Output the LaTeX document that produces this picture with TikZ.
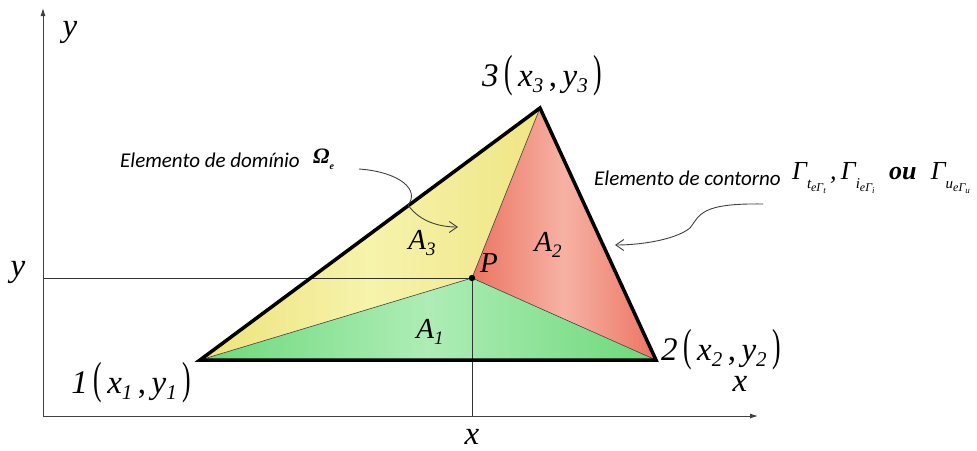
\documentclass[tikz,border=0pt]{standalone}
\usepackage{fontspec}
\setmainfont{Liberation Serif}
\newfontfamily\calibfont{Carlito}
\usetikzlibrary{arrows.meta}
\definecolor{yelA}{HTML}{EEE27A}
\definecolor{yelB}{HTML}{F6F3AC}
\definecolor{redA}{HTML}{EC7462}
\definecolor{redB}{HTML}{F6B2A4}
\definecolor{grnA}{HTML}{6CD87A}
\definecolor{grnB}{HTML}{AEEDB6}
\newcommand{\bigpar}[1]{\scalebox{0.85}[1.5]{\upshape\fontsize{30}{30}\selectfont #1}}
\newcommand{\vsub}[1]{\raisebox{-0.4ex}{\fontsize{21}{21}\selectfont\itshape #1}}
\newcommand{\asub}[1]{\raisebox{-0.45ex}{\fontsize{19}{19}\selectfont\itshape #1}}
\newcommand{\vtx}[3]{{\itshape #1}\,\bigpar{(}\,{\itshape x}\vsub{#2}\,,\,{\itshape y}\vsub{#3}\,\bigpar{)}}
\newcommand{\gsub}[2]{\raisebox{-0.75ex}{\fontsize{15}{15}\selectfont #1\raisebox{-0.45ex}{\fontsize{12}{12}\selectfont eΓ\raisebox{-0.35ex}{\fontsize{9}{9}\selectfont #2}}}}
\begin{document}
\begin{tikzpicture}[x=1pt,y=-1pt,
  axis/.style={draw=black!75,line width=0.9pt},
  guide/.style={draw=black!80,line width=0.7pt},
  edge/.style={draw=black,line width=3.5pt,line join=miter},
  inner/.style={draw=black!75,line width=0.6pt},
  mlab/.style={font=\fontsize{33}{33}\selectfont\itshape,inner sep=0pt},
  alab/.style={font=\fontsize{29}{29}\selectfont\itshape,inner sep=0pt},
  vlab/.style={font=\fontsize{33}{33}\selectfont,inner sep=0pt},
  note/.style={font=\calibfont\itshape\fontsize{21}{21}\selectfont,inner sep=0pt},
  pointer/.style={draw=black!75,line width=0.9pt,-{Straight Barb[length=8pt,width=11pt]}}]
\useasboundingbox (0,0) rectangle (977,450);
% reference points
\coordinate (O) at (43,416);
\coordinate (ytip) at (43,8);
\coordinate (xtip) at (758,416);
\coordinate (v1) at (200,360);
\coordinate (v2) at (656,360);
\coordinate (v3) at (540,108);
\coordinate (P) at (472,278);
\coordinate (yl) at (43,278);
\coordinate (xl) at (472,416);
% filled sub-triangles
\shade[left color=yelA,right color=yelA!80!yelB,middle color=yelB] (v1) -- (v3) -- (P) -- cycle;
\shade[left color=redA,right color=redA,middle color=redB] (P) -- (v3) -- (v2) -- cycle;
\shade[left color=grnA,right color=grnA,middle color=grnB] (v1) -- (P) -- (v2) -- cycle;
% guide lines to P
\draw[guide] (yl) -- (P);
\draw[guide] (P) -- (xl);
% inner edges
\draw[inner] (v1) -- (P);
\draw[inner] (v3) -- (P);
\draw[inner] (v2) -- (P);
% axes
\draw[axis,-{Latex[length=8pt,width=5pt]}] (O) -- (ytip);
\draw[axis,-{Latex[length=8pt,width=5pt]}] (O) -- (xtip);
% outer triangle
\draw[edge] (v1) -- (v2) -- (v3) -- cycle;
\fill (P) circle (3.2pt);
% labels
\node[mlab] (ylabT) at (70,32) {y};
\node[mlab] (xlabR) at (740,384) {x};
\node[mlab] (xlabB) at (472,437) {x};
\node[mlab] (ylabL) at (18,272) {y};
\node[alab] (Plab) at (489,263) {P};
\node[alab] (A3) at (422,243) {A\asub{3}};
\node[alab] (A2) at (548,245) {A\asub{2}};
\node[alab] (A1) at (430,332) {A\asub{1}};
\node[vlab] (n3) at (542,76) {\vtx{3}{3}{3}};
\node[vlab,anchor=west] (n2) at (661,350) {\vtx{2}{2}{2}};
\node[vlab,anchor=east] (n1) at (191,383) {\vtx{1}{1}{1}};
% notes
\node[note,anchor=west] (dom) at (120,160) {Elemento de domínio};
\node[anchor=west,inner sep=0pt,font=\fontsize{22}{22}\selectfont\bfseries\itshape] (omega) at (313,159) {Ω\raisebox{-0.6ex}{\fontsize{10}{10}\selectfont e}};
\node[note,anchor=west] (cont) at (594,178) {Elemento de contorno};
\node[anchor=west,inner sep=0pt,font=\fontsize{26}{26}\selectfont\itshape] (gam) at (792,178)
 {Γ\gsub{t}{t}\,,\,Γ\gsub{i}{i}\;\;{\bfseries ou}\;\;Γ\gsub{u}{u}};
\coordinate (domS) at (359,169);
\coordinate (domE) at (458,227);
\coordinate (conS) at (763,204);
\coordinate (conE) at (615,245);
\draw[pointer] (domS) .. controls (400,172) and (420,190) .. (408,205) .. controls (420,222) and (440,227) .. (domE);
\draw[pointer] (conS) .. controls (700,203) and (700,215) .. (690,228) .. controls (675,240) and (640,245) .. (conE);
\end{tikzpicture}
\end{document}
